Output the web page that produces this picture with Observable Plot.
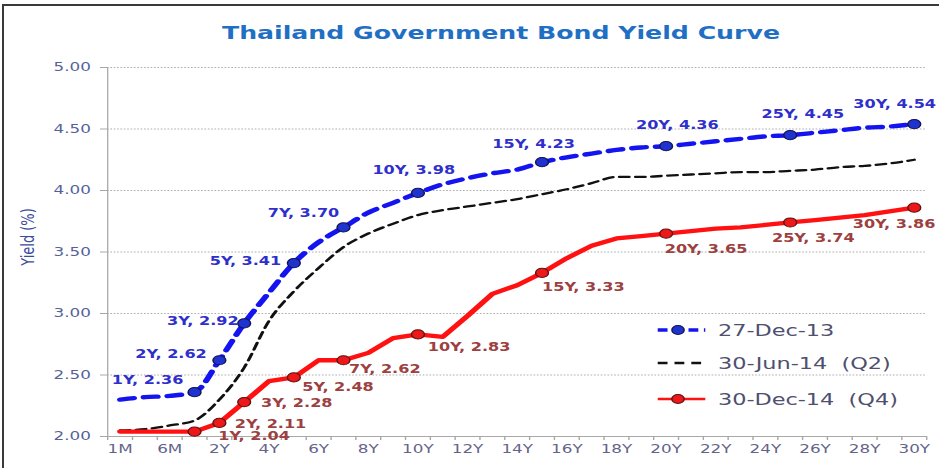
<!DOCTYPE html>
<html>
<head>
<meta charset="utf-8">
<script src="https://cdn.jsdelivr.net/npm/d3@7"></script>
<script src="https://cdn.jsdelivr.net/npm/@observablehq/plot@0.6"></script>
<style>
  html, body { margin: 0; padding: 0; background: #fff; }
  #page { position: relative; width: 939px; height: 468px; overflow: hidden; background: #fff; }
  #stage { position: absolute; left: 0; top: 0; width: 671px; height: 468px; transform-origin: 0 0; }
  #chart { position: absolute; left: 0; top: 0; }
  #title { position: absolute; left: 0; width: 716px; top: 22px; text-align: center;
           font: bold 18px "DejaVu Sans", sans-serif; color: #1f6fc4; }
  #ylabel { position: absolute; left: 20px; top: 237px; transform: translate(-50%, -50%) rotate(-90deg);
            font: 13px "DejaVu Sans", sans-serif; color: #3b4c9c; white-space: nowrap; }
  .lg { position: absolute; left: 470px; height: 20px; display: flex; align-items: center; }
  .lg svg { width: 34px; height: 14px; margin-right: 9px; overflow: visible; }
  .lg span { font: 16px "DejaVu Sans", sans-serif; color: #4f4f6f; white-space: pre; }
  #frameTop { position: absolute; left: 2px; top: 4px; width: 937px; height: 2px; background: #3a3a3a; }
  #frameLeft { position: absolute; left: 2px; top: 4px; width: 2px; height: 464px; background: #3a3a3a; }
</style>
</head>
<body>
<div id="page">
  <div id="stage">
    <div id="chart"></div>
    <div id="title"></div>
    <div id="ylabel"></div>
    <div id="legend"></div>
  </div>
  <div id="frameTop"></div>
  <div id="frameLeft"></div>
</div>
<script>
// ---------- data ----------
const chartTitle = "Thailand Government Bond Yield Curve";
const yAxisTitle = "Yield (%)";
const tenors = ["1M","3M","6M","1Y","2Y","3Y","4Y","5Y","6Y","7Y","8Y","9Y","10Y","11Y","12Y","13Y","14Y",
  "15Y","16Y","17Y","18Y","19Y","20Y","21Y","22Y","23Y","24Y","25Y","26Y","27Y","28Y","29Y","30Y"];
const dec13 = [2.30, 2.32, 2.33, 2.36, 2.62, 2.92, 3.17, 3.41, 3.58, 3.70, 3.82, 3.90, 3.98, 4.05, 4.10, 4.14, 4.17,
  4.23, 4.27, 4.30, 4.33, 4.35, 4.36, 4.38, 4.40, 4.42, 4.44, 4.45, 4.47, 4.49, 4.51, 4.52, 4.54];
const jun14 = [2.05, 2.06, 2.09, 2.13, 2.30, 2.56, 2.94, 3.18, 3.37, 3.54, 3.65, 3.73, 3.80, 3.84, 3.87, 3.90, 3.93,
  3.97, 4.01, 4.06, 4.11, 4.11, 4.12, 4.13, 4.14, 4.15, 4.15, 4.16, 4.17, 4.19, 4.20, 4.22, 4.25];
const dec14 = [2.04, 2.04, 2.04, 2.04, 2.11, 2.28, 2.45, 2.48, 2.62, 2.62, 2.68, 2.80, 2.83, 2.81, 2.98, 3.16, 3.23,
  3.33, 3.45, 3.55, 3.61, 3.63, 3.65, 3.67, 3.69, 3.70, 3.72, 3.74, 3.76, 3.78, 3.80, 3.83, 3.86];
const seriesNames = ["27-Dec-13", "30-Jun-14  (Q2)", "30-Dec-14  (Q4)"];
const labelledTenors = ["1Y","2Y","3Y","5Y","7Y","10Y","15Y","20Y","25Y","30Y"];
const yTicks = [2.00, 2.50, 3.00, 3.50, 4.00, 4.50, 5.00];
const xTickLabels = ["1M","6M","2Y","4Y","6Y","8Y","10Y","12Y","14Y","16Y","18Y","20Y","22Y","24Y","26Y","28Y","30Y"];

// ---------- presentation ----------
const W = 671, H = 468;
const S = 939 / W;   // horizontal stretch of the original picture
document.getElementById("stage").style.transform = `scaleX(${S})`;
document.getElementById("title").textContent = chartTitle;
document.getElementById("ylabel").textContent = yAxisTitle;

// label placement per point: [textAnchor, dx, dy]
const labelPlacement = {
  blue: {"1Y":["end",-8,-12], "2Y":["end",-9,-6], "3Y":["end",-4,-2], "5Y":["end",-9,-2], "7Y":["end",-3,-14],
         "10Y":["middle",-3,-23], "15Y":["middle",-6,-18], "20Y":["middle",8,-21], "25Y":["middle",9,-21], "30Y":["middle",-14,-20]},
  red:  {"1Y":["start",17,5], "2Y":["start",11,1], "3Y":["start",12,1], "5Y":["start",6,10], "7Y":["start",4,9],
         "10Y":["start",7,13], "15Y":["start",0,14], "20Y":["start",-1,16], "25Y":["start",-13,16], "30Y":["start",-44,17]}
};

const rows = vals => tenors.map((t, i) => ({i, tenor: t, v: vals[i]}));
const r13 = rows(dec13), rJ = rows(jun14), r14 = rows(dec14);
const isLab = d => labelledTenors.includes(d.tenor);
const fmt = d => `${d.tenor}, ${d.v.toFixed(2)}`;

const BLUE = "#1414f0", BLUE_LBL = "#2f2fcc", RED = "#ff1111", RED_LBL = "#9c4040";

function labelMarks(data, placement, color) {
  return data.filter(isLab).map(d => {
    const [anchor, dx, dy] = placement[d.tenor];
    return Plot.text([d], {x: "i", y: "v", text: fmt, textAnchor: anchor, dx, dy,
      fill: color, fontWeight: "bold", fontSize: 11.5, fontFamily: "DejaVu Sans"});
  });
}

const boundaries = d3.range(-0.5, tenors.length, 1);

const chart = Plot.plot({
  width: W, height: H,
  marginLeft: 107 / S, marginRight: 13 / S, marginTop: 67, marginBottom: 32,
  style: {fontFamily: "DejaVu Sans", background: "transparent", overflow: "visible"},
  x: {type: "linear", domain: [-0.5, tenors.length - 0.5]},
  y: {domain: [2, 5]},
  marks: [
    Plot.gridY(yTicks.slice(1), {stroke: "#b0b0b0", strokeOpacity: 1, strokeDasharray: "1.2,1.2"}),
    Plot.ruleY([2], {stroke: "#a8a8a8"}),
    Plot.ruleX([-0.5], {stroke: "#a8a8a8", strokeWidth: 0.9}),
    Plot.axisY(yTicks, {tickSize: 5, tickPadding: 7, tickFormat: d => d.toFixed(2),
      fill: "#55629a", stroke: "#a8a8a8", fontSize: 12, label: null}),
    Plot.axisX(boundaries, {tickSize: 4, tickFormat: () => "", stroke: "#a8a8a8", label: null}),
    Plot.axisX(xTickLabels.map(l => tenors.indexOf(l)), {tickSize: 0, tickPadding: 8,
      tickFormat: i => tenors[i], fill: "#64648a", fontSize: 12, label: null}),
    Plot.line(r13, {x: "i", y: "v", stroke: BLUE, strokeWidth: 4.4, strokeDasharray: "10,7", curve: "monotone-x"}),
    Plot.line(rJ, {x: "i", y: "v", stroke: "#111", strokeWidth: 2.3, strokeDasharray: "7,4.5", curve: "monotone-x"}),
    Plot.line(r14, {x: "i", y: "v", stroke: RED, strokeWidth: 4.3}),
    Plot.dot(r13.filter(isLab), {x: "i", y: "v", r: 4.6, fill: "#1f33d0", stroke: "#141450", strokeWidth: 1}),
    Plot.dot(r14.filter(isLab), {x: "i", y: "v", r: 4.6, fill: "#ee1818", stroke: "#5a1414", strokeWidth: 1}),
    ...labelMarks(r13, labelPlacement.blue, BLUE_LBL),
    ...labelMarks(r14, labelPlacement.red, RED_LBL)
  ]
});
document.getElementById("chart").appendChild(chart);

// ---------- legend ----------
const legendRows = [
  {name: seriesNames[0], y: 330, sw: `<line x1="0" x2="34" y1="7" y2="7" stroke="${BLUE}" stroke-width="3.5" stroke-dasharray="7,4"/><circle cx="14.5" cy="7" r="4.4" fill="#1f33d0" stroke="#141450" stroke-width="1"/>`},
  {name: seriesNames[1], y: 363, sw: `<line x1="0" x2="34" y1="7" y2="7" stroke="#111" stroke-width="2.3" stroke-dasharray="7,5"/>`},
  {name: seriesNames[2], y: 399, sw: `<line x1="0" x2="34" y1="7" y2="7" stroke="${RED}" stroke-width="2.5"/><circle cx="14.5" cy="7" r="4.4" fill="#ee1818" stroke="#5a1414" stroke-width="1"/>`}
];
const lg = document.getElementById("legend");
legendRows.forEach(r => {
  const div = document.createElement("div");
  div.className = "lg";
  div.style.top = (r.y - 10) + "px";
  div.innerHTML = `<svg viewBox="0 0 34 14">${r.sw}</svg><span></span>`;
  div.querySelector("span").textContent = r.name;
  lg.appendChild(div);
});
</script>
</body>
</html>
